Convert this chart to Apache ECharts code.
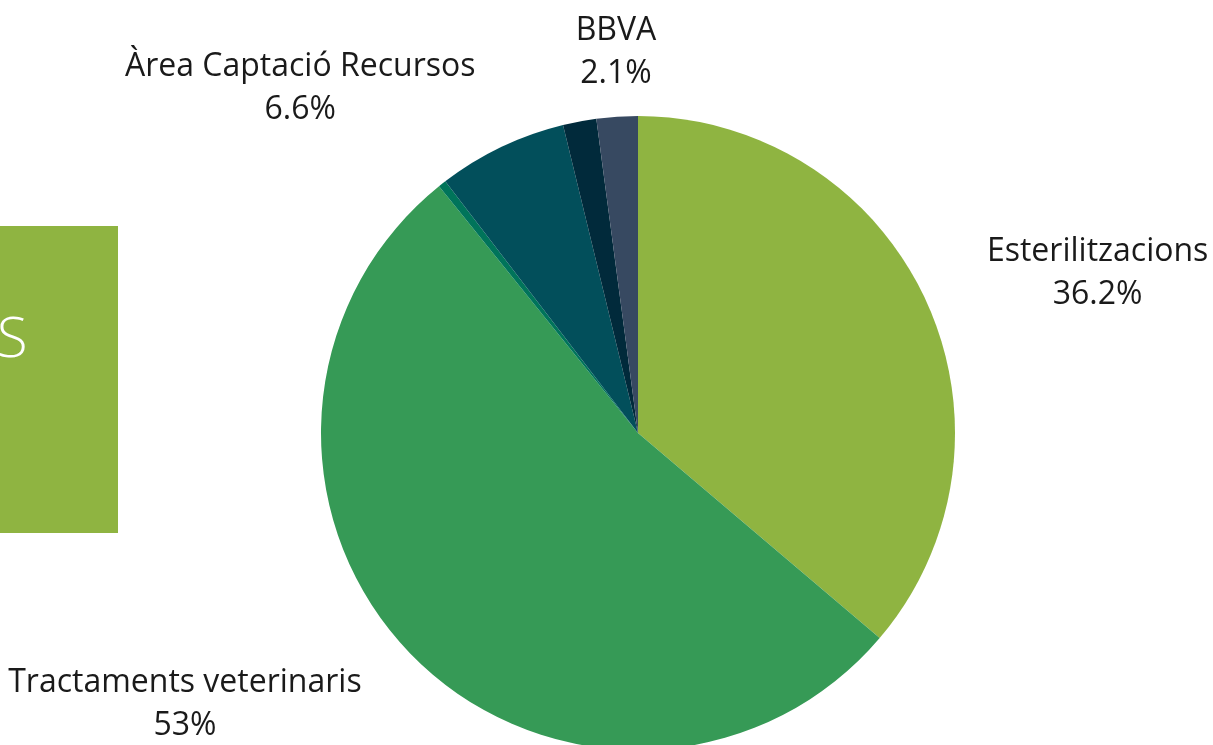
<!DOCTYPE html>
<html>
<head>
<meta charset="utf-8">
<script src="https://cdn.jsdelivr.net/npm/echarts@6/dist/echarts.min.js"></script>
<style>
html,body{margin:0;padding:0;background:#fff;}
#chart{width:1213px;height:745px;}
</style>
</head>
<body>
<div id="chart"></div>
<script>
var categories = ['Esterilitzacions', 'Tractaments veterinaris', 'Altres', 'Àrea Captació Recursos', 'Altres ingressos', 'BBVA'];
var values = [36.2, 53.0, 0.4, 6.6, 1.7, 2.1];
var colors = ['#8fb441', '#369a56', '#00745a', '#024f5b', '#012a3b', '#374961'];
var labelled = [true, true, false, true, false, true];
var titleText = 'S';

var chart = echarts.init(document.getElementById('chart'), null, {renderer: 'canvas'});
var data = categories.map(function (c, i) {
  return {
    name: c,
    value: values[i],
    itemStyle: {color: colors[i]},
    label: {show: labelled[i]}
  };
});
chart.setOption({
  animation: false,
  graphic: [
    {type: 'rect', left: 0, top: 226, shape: {width: 118, height: 307}, style: {fill: '#8fb441'}},
    {type: 'text', left: -3, top: 313, style: {text: titleText, fill: '#ffffff', font: '300 56px "Open Sans"'}}
  ],
  series: [{
    type: 'pie',
    center: [638, 433],
    radius: 317,
    startAngle: 90,
    clockwise: true,
    avoidLabelOverlap: false,
    itemStyle: {borderWidth: 0},
    label: {
      position: 'outside',
      bleedMargin: 0,
      overflow: 'none',
      fontFamily: 'Open Sans',
      fontSize: 32,
      color: '#1a1a1a',
      formatter: function (p) { return '{a|' + p.name + '}\n{a|' + p.value + '%}'; },
      rich: {a: {align: 'center', fontFamily: 'Open Sans', fontSize: 32, lineHeight: 43, color: '#1a1a1a'}}
    },
    labelLine: {show: false, length: 62, length2: 0},
    labelLayout: function (p) {
      if (p.dataIndex === 5) return {align: 'center', dx: 8, dy: -2};
      if (p.dataIndex === 3) return {dx: 6, dy: -3};
      if (p.dataIndex === 1) return {dy: 7};
      return {};
    },
    emphasis: {disabled: true},
    data: data
  }]
});
</script>
</body>
</html>
